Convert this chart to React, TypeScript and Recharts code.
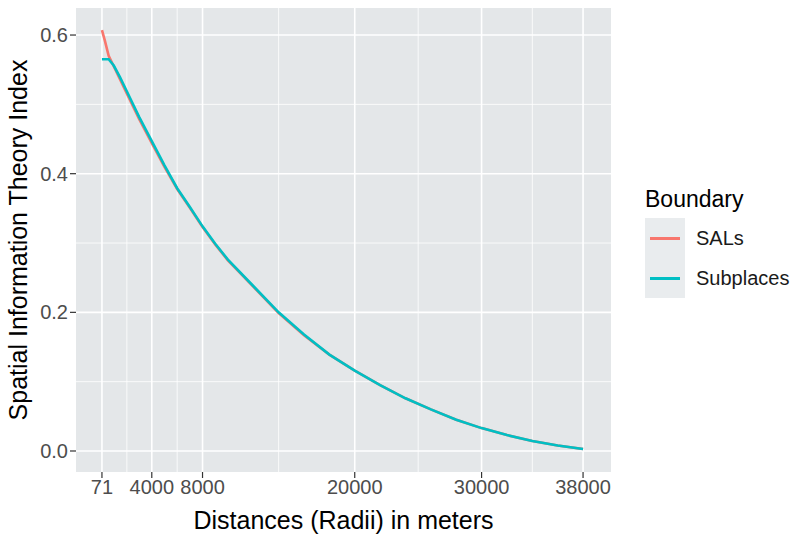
import { LineChart, Line, XAxis, YAxis, CartesianGrid, ReferenceLine } from "recharts";

const distances = [71, 300, 600, 1000, 1500, 2000, 3000, 4000, 5000, 6000, 7000, 8000, 9000, 10000, 12000, 14000, 16000, 18000, 20000, 22000, 24000, 26000, 28000, 30000, 32000, 34000, 36000, 38000];
const sals = [0.607, 0.592, 0.57, 0.555, 0.536, 0.517, 0.479, 0.444, 0.41, 0.378, 0.351, 0.323, 0.298, 0.275, 0.237, 0.199, 0.167, 0.139, 0.116, 0.095, 0.076, 0.06, 0.045, 0.033, 0.023, 0.0145, 0.008, 0.003];
const subplaces = [0.565, 0.565, 0.565, 0.556, 0.539, 0.52, 0.482, 0.447, 0.412, 0.379, 0.352, 0.324, 0.299, 0.276, 0.238, 0.2, 0.168, 0.139, 0.116, 0.095, 0.076, 0.06, 0.045, 0.033, 0.023, 0.0145, 0.008, 0.003];

const xTicks = [71, 4000, 8000, 20000, 30000, 38000];
const xMinor = [2035, 6000, 14000, 25000, 34000];
const yTicks = [0, 0.2, 0.4, 0.6];
const yMinor = [0.1, 0.3, 0.5];

const series = [
  { key: "sals", name: "SALs", color: "#F8766D" },
  { key: "subplaces", name: "Subplaces", color: "#00BFC4" },
];

const data = distances.map((d, i) => ({ d, sals: sals[i], subplaces: subplaces[i] }));

const FONT = "'Liberation Sans', Arial, sans-serif";

// ggplot-style legend drawn beside the panel
function BoundaryLegend() {
  return (
    <div style={{ position: "absolute", left: 645, top: 185, fontFamily: FONT }}>
      <div style={{ fontSize: 23, lineHeight: "28px", marginBottom: 5, color: "#000" }}>Boundary</div>
      {series.map((s) => (
        <div key={s.key} style={{ display: "flex", alignItems: "center", height: 40 }}>
          <div
            style={{
              width: 40,
              height: 40,
              background: "#E9ECEE",
              display: "flex",
              alignItems: "center",
              justifyContent: "center",
            }}
          >
            <div style={{ width: 30, height: 3, background: s.color }} />
          </div>
          <span style={{ fontSize: 20, marginLeft: 11, color: "#1a1a1a" }}>{s.name}</span>
        </div>
      ))}
    </div>
  );
}

export default function App() {
  return (
    <div style={{ position: "absolute", left: 0, top: 0, width: 796, height: 534, background: "#fff" }}>
      <LineChart width={796} height={534} data={data} margin={{ top: 8, right: 185, left: 0, bottom: 0 }}>
        <CartesianGrid
          fill="#E4E7E9"
          stroke="#fff"
          strokeWidth={1.6}
          horizontalValues={yTicks}
          verticalValues={xTicks}
        />
        {xMinor.map((v) => (
          <ReferenceLine key={`vx-${v}`} x={v} stroke="#fff" strokeWidth={0.8} />
        ))}
        {yMinor.map((v) => (
          <ReferenceLine key={`hy-${v}`} y={v} stroke="#fff" strokeWidth={0.8} />
        ))}
        <XAxis
          dataKey="d"
          type="number"
          domain={[-1975, 40203]}
          ticks={xTicks}
          allowDataOverflow
          interval={0}
          height={62}
          axisLine={false}
          tickLine={{ stroke: "#333", strokeWidth: 1.2 }}
          tickSize={6}
          tick={{ fill: "#4D4D4D", fontSize: 20, fontFamily: FONT }}
          label={{ value: "Distances (Radii) in meters", position: "insideBottom", offset: 5, fill: "#000", fontSize: 25, fontFamily: FONT }}
        />
        <YAxis
          type="number"
          domain={[-0.0303, 0.639]}
          ticks={yTicks}
          allowDataOverflow
          width={76}
          axisLine={false}
          tickLine={{ stroke: "#333", strokeWidth: 1.2 }}
          tickSize={6}
          tickFormatter={(v: number) => v.toFixed(1)}
          tick={{ fill: "#4D4D4D", fontSize: 20, fontFamily: FONT }}
          label={{ value: "Spatial Information Theory Index", angle: -90, position: "insideLeft", offset: 18, style: { textAnchor: "middle" }, fill: "#000", fontSize: 25, fontFamily: FONT }}
        />
        {series.map((s) => (
          <Line
            key={s.key}
            type="linear"
            dataKey={s.key}
            name={s.name}
            stroke={s.color}
            strokeWidth={2.6}
            dot={false}
            isAnimationActive={false}
          />
        ))}
      </LineChart>
      <BoundaryLegend />
    </div>
  );
}
